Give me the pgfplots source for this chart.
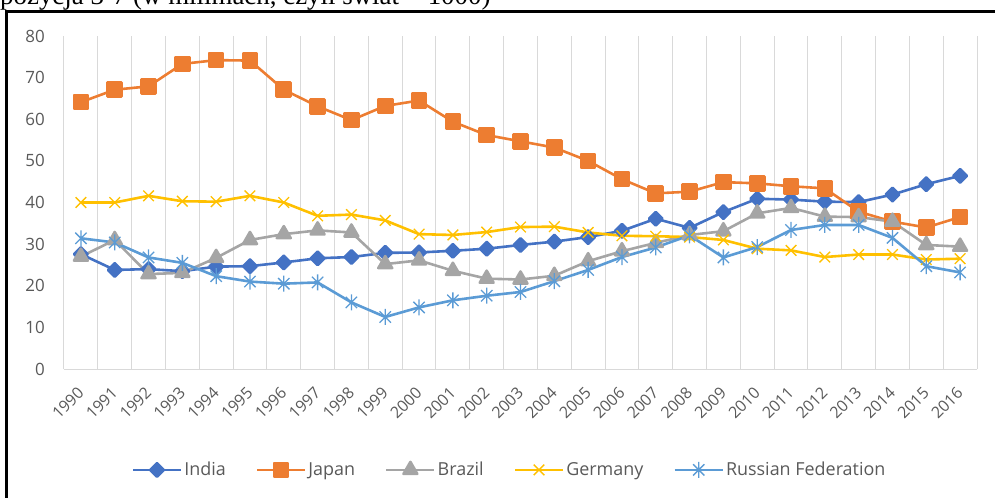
\documentclass[border=0pt]{standalone}
\usepackage{pgfplots}
\pgfplotsset{compat=1.18}
\usepackage{pgfplotstable}
\usepackage{fontspec}
\setmainfont{Open Sans}
\newfontfamily\docserif{Liberation Serif}

\definecolor{cIndia}{HTML}{4472C4}
\definecolor{cJapan}{HTML}{ED7D31}
\definecolor{cBrazil}{HTML}{A5A5A5}
\definecolor{cGermany}{HTML}{FFC000}
\definecolor{cRussia}{HTML}{5B9BD5}
\definecolor{gridgray}{HTML}{D9D9D9}
\definecolor{txtgray}{HTML}{595959}

% star marker: vertical bar plus a diagonal cross
\pgfdeclareplotmark{xstar}{%
  \pgfpathmoveto{\pgfqpoint{0pt}{\pgfplotmarksize}}%
  \pgfpathlineto{\pgfqpoint{0pt}{-\pgfplotmarksize}}%
  \pgfpathmoveto{\pgfqpoint{0.707\pgfplotmarksize}{0.707\pgfplotmarksize}}%
  \pgfpathlineto{\pgfqpoint{-0.707\pgfplotmarksize}{-0.707\pgfplotmarksize}}%
  \pgfpathmoveto{\pgfqpoint{-0.707\pgfplotmarksize}{0.707\pgfplotmarksize}}%
  \pgfpathlineto{\pgfqpoint{0.707\pgfplotmarksize}{-0.707\pgfplotmarksize}}%
  \pgfusepathqstroke}

\pgfplotstableread{
year India Japan Brazil Germany Russia
1990 27.6 64.1 27.0 40.0 31.4
1991 23.8 67.1 31.0 40.0 30.4
1992 24.0 67.9 22.8 41.6 26.8
1993 23.5 73.3 23.1 40.3 25.5
1994 24.6 74.2 26.7 40.2 22.3
1995 24.7 74.1 31.0 41.6 21.0
1996 25.6 67.1 32.4 40.0 20.5
1997 26.6 63.1 33.3 36.8 20.8
1998 26.9 59.8 32.8 37.1 16.0
1999 27.9 63.2 25.2 35.7 12.5
2000 28.0 64.5 26.1 32.4 14.8
2001 28.4 59.4 23.6 32.2 16.5
2002 28.9 56.2 21.7 32.9 17.6
2003 29.8 54.7 21.5 34.1 18.5
2004 30.6 53.2 22.4 34.2 21.1
2005 31.7 50.0 25.9 32.8 23.8
2006 33.2 45.6 28.3 32.0 26.9
2007 36.1 42.2 30.3 31.9 29.2
2008 33.9 42.6 32.2 31.7 32.1
2009 37.7 44.9 33.1 31.0 26.8
2010 40.9 44.6 37.4 28.9 29.3
2011 40.7 43.9 38.7 28.5 33.4
2012 40.2 43.4 36.6 26.9 34.6
2013 40.1 37.8 36.5 27.5 34.6
2014 41.9 35.4 35.4 27.5 31.5
2015 44.4 34.0 29.8 26.3 24.7
2016 46.4 36.5 29.4 26.5 23.2
}\shares

\begin{document}
\begin{tikzpicture}
\useasboundingbox (0,0) rectangle (995bp,498bp);
% caption line of the surrounding text, cut by the page edge
\node[anchor=base west, inner sep=0pt, font=\docserif\fontsize{27}{31}\selectfont]
  at (0bp,493.5bp) {pozycja 3-7 (w milimach, czyli świat = 1000)};
% frame around the chart
\draw[line width=2.2bp] (6.5bp,-10bp) -- (6.5bp,486.5bp) -- (1010bp,486.5bp);
\begin{axis}[
  at={(64bp,129bp)}, anchor=south west,
  scale only axis, width=913bp, height=333bp,
  xmin=1989.5, xmax=2016.5, ymin=0, ymax=80,
  ytick={0,10,...,80},
  xtick={1990,...,2016},
  minor xtick={1989.5,1990.5,...,2016.5},
  xminorgrids=true,
  minor grid style={draw=gridgray, line width=1bp},
  major tick length=0pt, minor tick length=0pt,
  axis lines*=left,
  x axis line style={draw=gridgray, line width=1bp},
  y axis line style={draw=none},
  tick label style={text=txtgray},
  yticklabel style={font=\fontsize{17}{20}\selectfont, anchor=east, inner sep=0pt},
  xticklabel style={font=\fontsize{16}{19}\selectfont, rotate=45, anchor=east, inner sep=0pt},
  /pgf/number format/assume math mode=true,
  /pgf/number format/1000 sep={},
  xticklabel shift=21bp,
  yticklabel shift=19bp,
  every axis plot/.append style={line width=2.6bp, line join=round},
  legend columns=5,
  legend style={at={(0.488,-0.303)}, anchor=center, draw=none, fill=none,
    font=\fontsize{18}{21}\selectfont, text=txtgray,
    /tikz/every even column/.append style={column sep=28bp}},
  legend image code/.code={%
    \draw[mark repeat=2, mark phase=2, #1, line width=2.6bp]
      plot coordinates {(0bp,0bp) (24bp,0bp) (48bp,0bp)};},
]
\addplot[cIndia, mark=square*, mark size=4.8bp, mark options={rotate=45}]
  table[x=year, y=India] {\shares};
\addlegendentry{India}
\addplot[cJapan, mark=square*, mark size=7bp]
  table[x=year, y=Japan] {\shares};
\addlegendentry{Japan}
\addplot[cBrazil, mark=triangle*, mark size=8bp]
  table[x=year, y=Brazil] {\shares};
\addlegendentry{Brazil}
\addplot[cGermany, mark=x, mark size=7.5bp, mark options={line width=1.3bp}]
  table[x=year, y=Germany] {\shares};
\addlegendentry{Germany}
\addplot[cRussia, mark=xstar, mark size=8bp, mark options={line width=1.3bp}]
  table[x=year, y=Russia] {\shares};
\addlegendentry{Russian Federation}
\end{axis}
\end{tikzpicture}
\end{document}
